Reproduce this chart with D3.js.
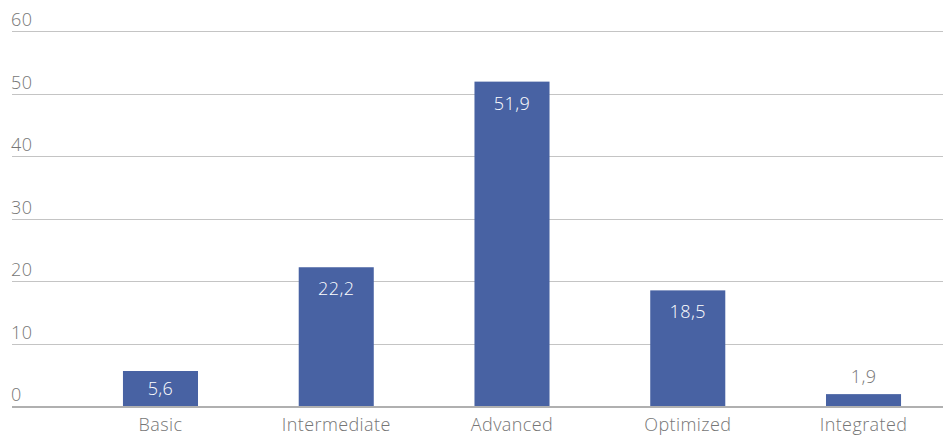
<!DOCTYPE html>
<html>
<head>
<meta charset="utf-8">
<script src="https://cdn.jsdelivr.net/npm/d3@7"></script>
<style>
  html, body { margin: 0; padding: 0; background: #fff; }
  svg text { font-family: "Open Sans", "Liberation Sans", sans-serif; font-weight: 300; letter-spacing: 0.4px; }
</style>
</head>
<body>
<svg id="chart" width="943" height="436"></svg>
<script>
// Maturity levels and their shares
const categories = ["Basic", "Intermediate", "Advanced", "Optimized", "Integrated"];
const values = [5.6, 22.2, 51.9, 18.5, 1.9];
const yTicks = [0, 10, 20, 30, 40, 50, 60];

const svg = d3.select("#chart");
const W = 943, H = 436;
const FONT = "'Open Sans', 'Liberation Sans', sans-serif";
const TEXT = "#767676";
const FS = 18;

const y = d3.scaleLinear().domain([0, 60]).range([406, 31]);
const x = d3.scaleBand()
  .domain(categories)
  .range([72.6, 951.4])
  .paddingInner(0.573)
  .paddingOuter(0.2865);

const fmt = v => d3.format(".1f")(v).replace(".", ",");

// Horizontal gridlines with their labels sitting above them
const grid = svg.append("g");
grid.selectAll("line")
  .data(yTicks.filter(t => t !== 0))
  .join("line")
  .attr("x1", 12).attr("x2", W)
  .attr("y1", d => Math.round(y(d)) + 0.5)
  .attr("y2", d => Math.round(y(d)) + 0.5)
  .attr("stroke", "#c4c4c4").attr("stroke-width", 1);

grid.selectAll("text")
  .data(yTicks)
  .join("text")
  .attr("x", 11)
  .attr("y", d => y(d) - 5)
  .attr("fill", TEXT)
  .attr("font-size", FS)
  .text(d => d);

// Bars
svg.append("g").selectAll("rect")
  .data(values)
  .join("rect")
  .attr("x", (d, i) => x(categories[i]))
  .attr("width", x.bandwidth())
  .attr("y", d => y(d))
  .attr("height", d => y(0) - y(d))
  .attr("fill", "#4862a3");

// Baseline
svg.append("line")
  .attr("x1", 12).attr("x2", W)
  .attr("y1", y(0) + 1).attr("y2", y(0) + 1)
  .attr("stroke", "#b0b0b0").attr("stroke-width", 2);

// Value labels: inside the bar when it is tall enough, otherwise above
const inside = d => (y(0) - y(d)) > 24;
svg.append("g").selectAll("text")
  .data(values)
  .join("text")
  .attr("x", (d, i) => x(categories[i]) + x.bandwidth() / 2)
  .attr("y", d => inside(d) ? Math.min(y(d) + 28, y(0) - 11) : y(d) - 11)
  .attr("text-anchor", "middle")
  .attr("font-size", FS)
  .attr("fill", d => inside(d) ? "#ffffff" : TEXT)
  .text(fmt);

// Category axis labels
const xAxis = d3.axisBottom(x).tickSize(0).tickPadding(0);
const gx = svg.append("g")
  .attr("transform", `translate(0, ${y(0)})`)
  .call(xAxis);
gx.select(".domain").remove();
gx.selectAll("text")
  .attr("dy", null)
  .attr("y", 25)
  .attr("fill", TEXT)
  .attr("font-size", FS)
  .style("font-family", FONT)
  .style("font-weight", 300)
  .style("letter-spacing", "0.4px");
</script>
</body>
</html>
